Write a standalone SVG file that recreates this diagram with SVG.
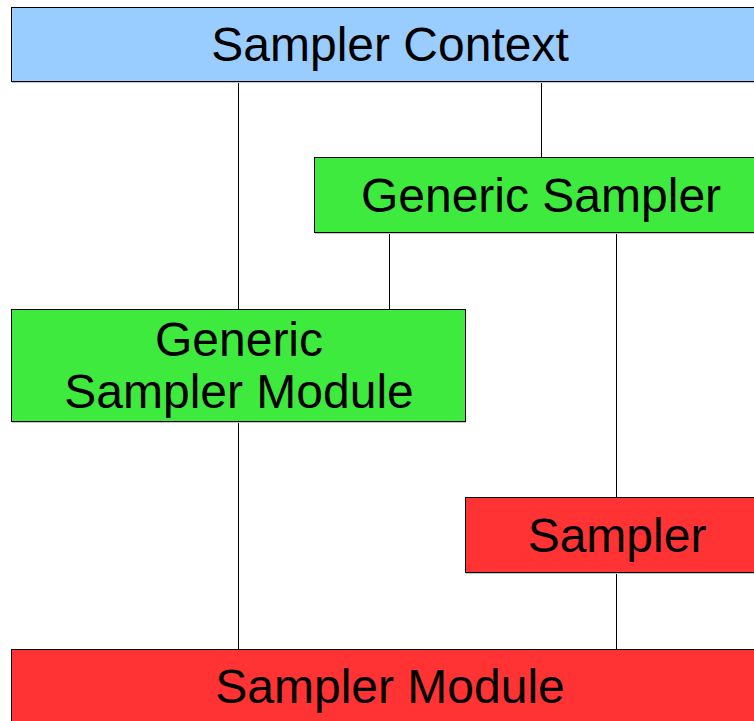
<svg xmlns="http://www.w3.org/2000/svg" width="754" height="721" viewBox="0 0 754 721">
  <style>
    .box { stroke: #000; stroke-width: 1; }
    .shadow { fill: #c4c4c4; }
    .ctx { fill: #99ccff; }
    .gen { fill: #3dea3d; }
    .conc { fill: #ff3333; }
    .label { font-family: "Liberation Sans", Arial, sans-serif; font-size: 48px; fill: #000; text-anchor: middle; }
    .link { stroke: #000; stroke-width: 1; fill: none; }
  </style>
  <rect width="754" height="721" fill="#fff"/>

  <!-- connectors -->
  <g id="connectors">
    <line class="link" x1="238.5" y1="81" x2="238.5" y2="309"/>
    <line class="link" x1="541.5" y1="81" x2="541.5" y2="157"/>
    <line class="link" x1="389.5" y1="233" x2="389.5" y2="309"/>
    <line class="link" x1="616.5" y1="233" x2="616.5" y2="497"/>
    <line class="link" x1="238.5" y1="422" x2="238.5" y2="649"/>
    <line class="link" x1="616.5" y1="573" x2="616.5" y2="649"/>
  </g>

  <g id="sampler-context">
    <rect class="shadow" x="12" y="9" width="760" height="74"/>
    <rect class="box ctx" x="11.5" y="7.5" width="760" height="74"/>
    <text class="label" x="390" y="61">Sampler Context</text>
  </g>

  <g id="generic-sampler">
    <rect class="shadow" x="315" y="159" width="460" height="75"/>
    <rect class="box gen" x="314.5" y="157.5" width="460" height="75"/>
    <text class="label" x="541" y="212">Generic Sampler</text>
  </g>

  <g id="generic-sampler-module">
    <rect class="shadow" x="12" y="311" width="454" height="112"/>
    <rect class="box gen" x="11.5" y="309.5" width="454" height="112"/>
    <text class="label" x="239" y="356">Generic</text>
    <text class="label" x="239" y="408">Sampler Module</text>
  </g>

  <g id="sampler">
    <rect class="shadow" x="466" y="499" width="300" height="75"/>
    <rect class="box conc" x="465.5" y="497.5" width="300" height="75"/>
    <text class="label" x="617" y="552">Sampler</text>
  </g>

  <g id="sampler-module">
    <rect class="box conc" x="11.5" y="649.5" width="760" height="90"/>
    <text class="label" x="390" y="703">Sampler Module</text>
  </g>
</svg>
